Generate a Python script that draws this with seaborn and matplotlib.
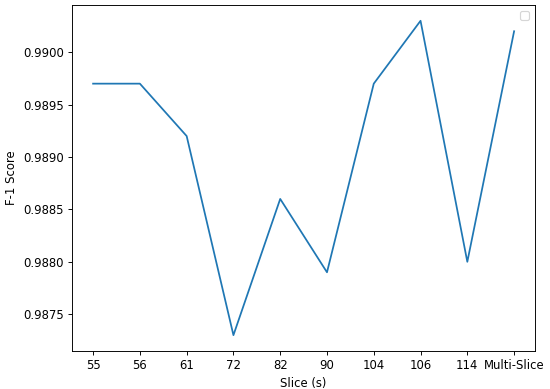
import seaborn as sns
import matplotlib.pyplot as plt
import pandas as pd

# F-1 score per slice
slices = ['55', '56', '61', '72', '82', '90', '104', '106', '114', 'Multi-Slice']
f1_scores = [0.9897, 0.9897, 0.9892, 0.9873, 0.9886, 0.9879, 0.9897, 0.9903, 0.9880, 0.9902]

df = pd.DataFrame({'slice': slices, 'f1': f1_scores})

dpi = 84
fig, ax = plt.subplots(figsize=(550 / dpi, 389 / dpi), dpi=dpi)
sns.lineplot(x='slice', y='f1', data=df, ax=ax, sort=False)
ax.set_xlabel('Slice (s)')
ax.set_ylabel('F-1 Score')
ax.legend()
fig.subplots_adjust(left=0.131, right=0.973, top=0.987, bottom=0.098)
plt.savefig('out.png', dpi=dpi)
